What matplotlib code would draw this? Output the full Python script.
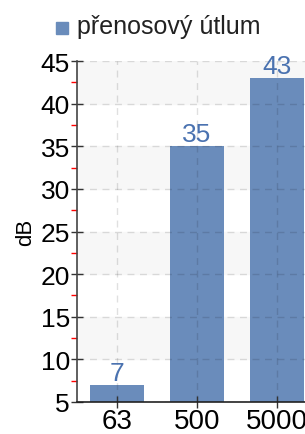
import matplotlib
matplotlib.use("Agg")
import matplotlib.pyplot as plt
from matplotlib.patches import Rectangle
import numpy as np

plt.rcParams['font.family'] = ['Liberation Sans Narrow', 'Liberation Sans', 'DejaVu Sans']

categories = ['63', '500', '5000']
values = [7, 35, 43]
series_name = 'přenosový útlum'
ylabel = 'dB'
y_ticks = [5, 10, 15, 20, 25, 30, 35, 40, 45]

bar_color = '#6a8cbb'
label_color = '#4a72b0'

fig = plt.figure(figsize=(3.05, 4.35), dpi=100)
ax = fig.add_axes([77/305, 32/435, 240/305, 341/435])

x = np.arange(len(categories))

# alternating bands
for lo in [10, 20, 30, 40]:
    ax.axhspan(lo, lo + 5, color='#f7f7f7', zorder=0)

ax.bar(x, values, width=0.68, color=bar_color, zorder=2)
for xi, v in zip(x, values):
    ax.text(xi, v, str(v), ha='center', va='bottom', color=label_color,
            fontsize=19, zorder=6, clip_on=False)

ax.set_xlim(-0.5, 2.5)
ax.set_ylim(5, 45)
ax.set_xticks(x)
ax.set_xticklabels(categories, fontsize=20)
ax.set_yticks(y_ticks)
ax.set_yticklabels([str(t) for t in y_ticks], fontsize=19)
ax.set_yticks(np.arange(7.5, 45, 5), minor=True)

ax.tick_params(axis='y', which='major', direction='inout', length=8, width=1,
               color='#333333', pad=1)
ax.tick_params(axis='y', which='minor', direction='out', length=4, width=1,
               color='red')
ax.tick_params(axis='x', which='major', direction='inout', length=8, width=1,
               color='#333333', pad=0)

ax.set_axisbelow(False)
ax.grid(True, which='major', axis='both', linestyle=(0, (5, 4)),
        color='black', alpha=0.12, linewidth=1, zorder=3)

for s in ['top', 'right']:
    ax.spines[s].set_visible(False)
ax.spines['left'].set_color('#444444')
ax.spines['bottom'].set_color('#222222')
ax.spines['left'].set_linewidth(1.2)
ax.spines['bottom'].set_linewidth(1.2)
ax.spines['left'].set_zorder(5)
ax.spines['bottom'].set_zorder(5)

ax.set_ylabel(ylabel, fontsize=16, labelpad=0)
ax.yaxis.set_label_coords(-0.17, 0.5)

# legend
fig.patches.append(Rectangle((56/305, 1 - 35/435), 12/305, 12/435,
                             transform=fig.transFigure, color=bar_color))
fig.text(77/305, 1 - 27/435, series_name, fontsize=18, va='center', ha='left',
         color='#222222', family=['Liberation Sans', 'DejaVu Sans'])

fig.savefig('out.png', dpi=100)
